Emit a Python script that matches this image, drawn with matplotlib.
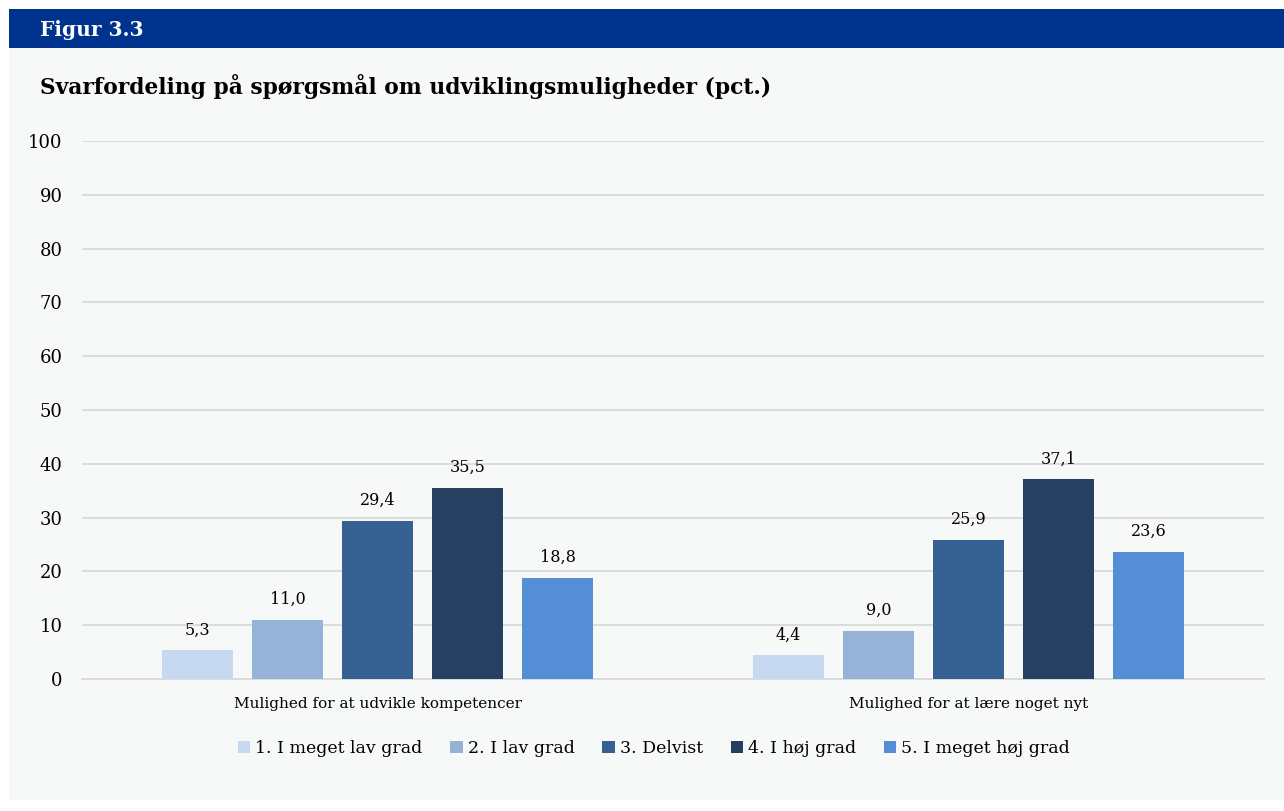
import numpy as np
import matplotlib.pyplot as plt
from matplotlib.patches import Rectangle

# data
categories = ["Mulighed for at udvikle kompetencer", "Mulighed for at lære noget nyt"]
series_names = ["1. I meget lav grad", "2. I lav grad", "3. Delvist", "4. I høj grad", "5. I meget høj grad"]
values_1 = [5.3, 4.4]
values_2 = [11.0, 9.0]
values_3 = [29.4, 25.9]
values_4 = [35.5, 37.1]
values_5 = [18.8, 23.6]
series_values = [values_1, values_2, values_3, values_4, values_5]
colors = ["#C6D9F1", "#95B3D7", "#376092", "#254061", "#558ED5"]

W, H = 1284, 811
fig = plt.figure(figsize=(W / 100, H / 100), dpi=100)
fig.patch.set_facecolor("white")

# background panel and header band (behind the axes)
fig.patches.append(Rectangle((9 / W, 1 - 800 / H), 1 - 9 / W, 752 / H,
                             transform=fig.transFigure, facecolor="#F7F9F9", edgecolor="none", zorder=-2))
fig.patches.append(Rectangle((9 / W, 1 - 48 / H), 1 - 9 / W, 39 / H,
                             transform=fig.transFigure, facecolor="#00338D", edgecolor="none", zorder=-2))

serif = ["DejaVu Serif"]
fig.text(40 / W, 1 - 30 / H, "Figur 3.3", color="white", fontsize=14.5, fontweight="bold",
         family=serif, va="center", ha="left")
fig.text(40 / W, 1 - 86 / H, "Svarfordeling på spørgsmål om udviklingsmuligheder (pct.)",
         color="black", fontsize=15.7, fontweight="bold", family=serif, va="center", ha="left")

ax = fig.add_axes([82 / W, 1 - 679 / H, (1264 - 82) / W, (679 - 141) / H])
ax.set_facecolor("none")

x = np.arange(len(categories))
step = 90 / 591
width = 71 / 591
for i, (name, vals, c) in enumerate(zip(series_names, series_values, colors)):
    pos = x + (i - 2) * step
    bars = ax.bar(pos, vals, width=width, color=c, label=name, zorder=3)
    for b, v in zip(bars, vals):
        ax.text(b.get_x() + b.get_width() / 2, v + 2.2, f"{v:.1f}".replace(".", ","),
                ha="center", va="bottom", fontsize=11.5, family=serif)

ax.set_xlim(-0.5, 1.5)
ax.set_ylim(0, 100)
ax.set_yticks(range(0, 101, 10))
ax.yaxis.grid(True, color="#D9D9D9", linewidth=1.3, zorder=0)
ax.set_axisbelow(True)
ax.set_xticks(x)
ax.set_xticklabels(categories, family=serif, fontsize=11)
for lab in ax.get_yticklabels():
    lab.set_family(serif)
    lab.set_fontsize(13)
ax.tick_params(axis="both", length=0)
ax.tick_params(axis="y", pad=14)
ax.tick_params(axis="x", pad=13)
for s in ["top", "right", "left"]:
    ax.spines[s].set_visible(False)
ax.spines["bottom"].set_color("#D9D9D9")
ax.spines["bottom"].set_linewidth(1.3)

leg = ax.legend(loc="center", bbox_to_anchor=(0.484, -0.13), ncol=5, frameon=False,
                handlelength=0.7, handleheight=0.7, handletextpad=0.3, columnspacing=1.6,
                prop={"family": serif, "size": 12.5})

fig.savefig("out.png", dpi=100)
